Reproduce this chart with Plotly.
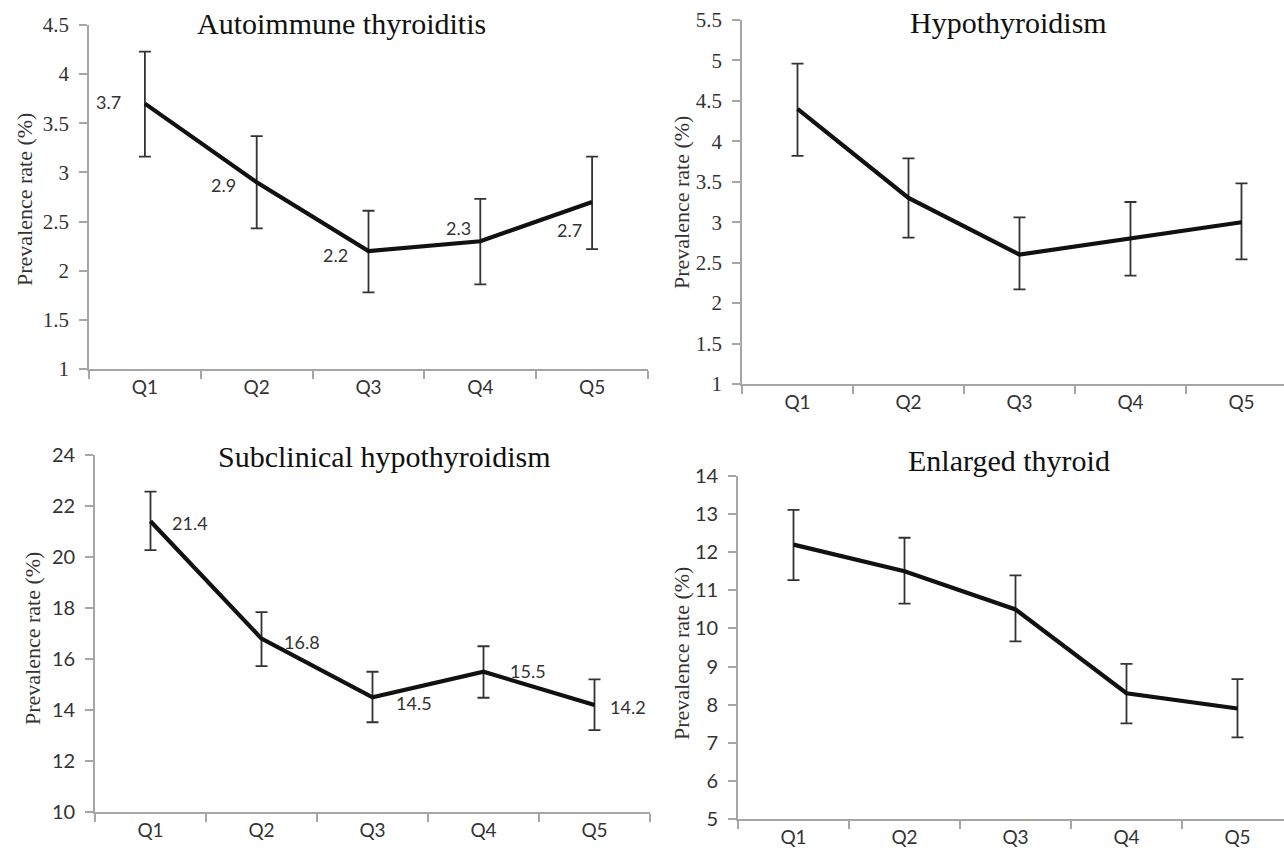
import plotly.graph_objects as go

W, H = 1284, 858

quintiles = ["Q1", "Q2", "Q3", "Q4", "Q5"]

# Autoimmune thyroiditis
ait_rate = [3.7, 2.9, 2.2, 2.3, 2.7]
ait_upper = [4.23, 3.37, 2.61, 2.73, 3.16]
ait_lower = [3.16, 2.43, 1.78, 1.86, 2.22]

# Hypothyroidism
hypo_rate = [4.4, 3.3, 2.6, 2.8, 3.0]
hypo_upper = [4.96, 3.79, 3.06, 3.25, 3.48]
hypo_lower = [3.82, 2.81, 2.17, 2.34, 2.54]

# Subclinical hypothyroidism
sch_rate = [21.4, 16.8, 14.5, 15.5, 14.2]
sch_upper = [22.56, 17.84, 15.50, 16.50, 15.20]
sch_lower = [20.27, 15.72, 13.52, 14.48, 13.21]

# Enlarged thyroid
goiter_rate = [12.2, 11.5, 10.5, 8.3, 7.9]
goiter_upper = [13.11, 12.38, 11.39, 9.07, 8.67]
goiter_lower = [11.27, 10.65, 9.66, 7.51, 7.14]

titles = ["Autoimmune thyroiditis", "Hypothyroidism",
          "Subclinical hypothyroidism", "Enlarged thyroid"]

SERIF = "Liberation Serif"
SANS = "Lato"
AXIS_GREY = "#a6a6a6"
TEXT_GREY = "#333333"


def px_x(x):
    return x / W


def px_y(y):
    return 1 - y / H


# panel boxes in pixels: (left, right, top, bottom), y range, dtick, tick font
panels = [
    dict(box=(89, 648, 25, 369), yr=[1, 4.5], dt=0.5, tf=SERIF, xr=[-0.5, 4.5],
         rate=ait_rate, up=ait_upper, lo=ait_lower),
    dict(box=(742, 1284, 20, 384), yr=[1, 5.5], dt=0.5, tf=SERIF, xr=[-0.5, 4.383],
         rate=hypo_rate, up=hypo_upper, lo=hypo_lower),
    dict(box=(95, 650, 455, 812), yr=[10, 24], dt=2, tf=SANS, xr=[-0.5, 4.5],
         rate=sch_rate, up=sch_upper, lo=sch_lower),
    dict(box=(738, 1284, 476, 819), yr=[5, 14], dt=1, tf=SANS, xr=[-0.5, 4.419],
         rate=goiter_rate, up=goiter_upper, lo=goiter_lower),
]

fig = go.Figure()
layout = {}

for i, p in enumerate(panels):
    n = "" if i == 0 else str(i + 1)
    l, r, t, b = p["box"]
    fig.add_trace(go.Scatter(
        x=quintiles, y=p["rate"], mode="lines",
        line=dict(color="#111111", width=4.2),
        error_y=dict(type="data", symmetric=False,
                     array=[u - v for u, v in zip(p["up"], p["rate"])],
                     arrayminus=[v - d for v, d in zip(p["rate"], p["lo"])],
                     color="#333333", thickness=1.8, width=6),
        xaxis="x" + n, yaxis="y" + n, showlegend=False, hoverinfo="skip",
    ))
    layout["xaxis" + n] = dict(
        domain=[px_x(l), px_x(r)], anchor="y" + n, type="category",
        range=p["xr"], tickson="boundaries", ticks="outside", ticklen=8,
        tickcolor=AXIS_GREY, tickwidth=1.5, showline=True, linecolor=AXIS_GREY,
        linewidth=1.8, showgrid=False, zeroline=False, automargin=False,
        tickfont=dict(family=SANS, size=19, color=TEXT_GREY),
    )
    layout["yaxis" + n] = dict(
        domain=[px_y(b), px_y(t)], anchor="x" + n, range=p["yr"],
        dtick=p["dt"], tick0=p["yr"][0], ticks="outside", ticklen=8,
        tickcolor=AXIS_GREY, tickwidth=1.5, showline=True, linecolor=AXIS_GREY,
        linewidth=1.8, showgrid=False, zeroline=False, automargin=False,
        ticklabelstandoff=6,
        tickfont=dict(family=p["tf"], size=21 if p["tf"] == SERIF else 20,
                      color=TEXT_GREY),
    )

annotations = []

# panel titles
title_pos = [(341, 23), (1008, 22), (384, 456), (1009, 460)]
for txt, (cx, cy) in zip(titles, title_pos):
    annotations.append(dict(
        text=txt, x=px_x(cx), y=px_y(cy), xref="paper", yref="paper",
        xanchor="center", yanchor="middle", showarrow=False,
        font=dict(family=SERIF, size=30, color="#111111"),
    ))

# y-axis titles
ytitle_pos = [(24, 200), (681, 203), (32, 639), (681, 654)]
for cx, cy in ytitle_pos:
    annotations.append(dict(
        text="Prevalence rate (%)", x=px_x(cx), y=px_y(cy), xref="paper",
        yref="paper", xanchor="center", yanchor="middle", showarrow=False,
        textangle=-90, font=dict(family=SERIF, size=22, color=TEXT_GREY),
    ))

# value labels on the autoimmune thyroiditis panel (left of each point)
ait_shift = [(-22, 2), (-19, -3), (-19, -4), (-7, 13), (-8, -28)]
for q, v, (dx, dy) in zip(quintiles, ait_rate, ait_shift):
    annotations.append(dict(
        text=f"{v:.1f}", x=q, y=v, xref="x", yref="y", xanchor="right",
        yanchor="middle", xshift=dx, yshift=dy, showarrow=False,
        font=dict(family=SANS, size=18, color=TEXT_GREY),
    ))

# value labels on the subclinical hypothyroidism panel (right of each point)
sch_shift = [(19, -2), (20, -3), (21, -6), (24, 1), (13, -2)]
for q, v, (dx, dy) in zip(quintiles, sch_rate, sch_shift):
    annotations.append(dict(
        text=f"{v:.1f}", x=q, y=v, xref="x3", yref="y3", xanchor="left",
        yanchor="middle", xshift=dx, yshift=dy, showarrow=False,
        font=dict(family=SANS, size=18, color=TEXT_GREY),
    ))

fig.update_layout(
    template="none",
    width=W, height=H, margin=dict(l=0, r=0, t=0, b=0, autoexpand=False),
    paper_bgcolor="white", plot_bgcolor="white",
    annotations=annotations, **layout,
)

fig.write_html("out.html")
